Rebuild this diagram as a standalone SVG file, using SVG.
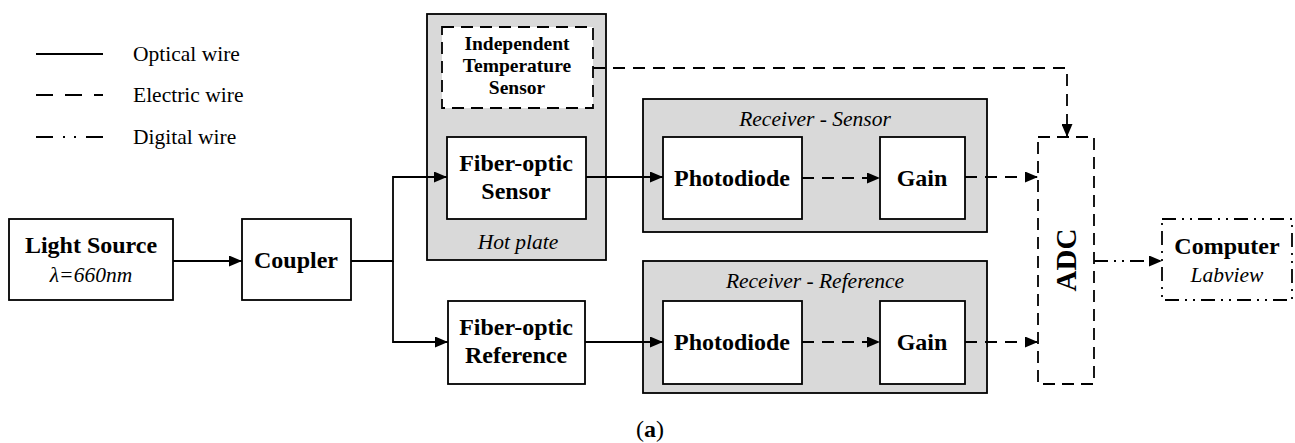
<svg xmlns="http://www.w3.org/2000/svg" width="1295" height="443" viewBox="0 0 1295 443" font-family="'Liberation Serif', serif">
<defs>
<marker id="ah" markerWidth="13" markerHeight="11" refX="13" refY="5.5" orient="auto" markerUnits="userSpaceOnUse"><path d="M0,0 L13,5.5 L0,11 Z" fill="#000"/></marker>
<style>
text{font-family:"Liberation Serif","Times New Roman",serif}
.b{font-weight:bold}
.big{font-size:24px}
.mid{font-size:19.5px}
.it{font-style:italic;font-size:21.5px}
.leg{font-size:21.5px}
.box{fill:#fff;stroke:#000;stroke-width:1.8}
.grp{fill:#d9d9d9;stroke:#000;stroke-width:1.8}
.dbox{fill:#fff;stroke:#000;stroke-width:1.8;stroke-dasharray:12,7}
.ddbox{fill:#fff;stroke:#000;stroke-width:1.8;stroke-dasharray:14,6,2,6,2,6}
.opt{fill:none;stroke:#000;stroke-width:1.8}
.el{fill:none;stroke:#000;stroke-width:1.8;stroke-dasharray:12,8}
.dg{fill:none;stroke:#000;stroke-width:1.8;stroke-dasharray:14,6,2,6,2,6}
</style>
</defs>
<g id="legend">
<line x1="36" y1="54" x2="103" y2="54" stroke="#000" stroke-width="2.2"/>
<line x1="36" y1="95" x2="103" y2="95" stroke="#000" stroke-width="2.2" stroke-dasharray="17,12"/>
<path d="M36,137 H53 M63,137 h2 M74,137 h2 M86,137 H103" stroke="#000" stroke-width="2.2" fill="none"/>
<text class="leg" x="133" y="61">Optical wire</text>
<text class="leg" x="133" y="102">Electric wire</text>
<text class="leg" x="133" y="144">Digital wire</text>
</g>
<g id="hotplate">
<rect class="grp" x="427" y="14" width="179" height="246"/>
<text class="it" x="518" y="249" text-anchor="middle">Hot plate</text>
</g>
<g id="temp-sensor">
<rect class="dbox" x="442" y="27" width="151" height="81"/>
<text class="b mid" x="517" y="50" text-anchor="middle">Independent</text>
<text class="b mid" x="517" y="72" text-anchor="middle">Temperature</text>
<text class="b mid" x="517" y="94" text-anchor="middle">Sensor</text>
</g>
<g id="fo-sensor">
<rect class="box" x="447" y="137" width="139" height="82"/>
<text class="b big" x="516" y="171" text-anchor="middle">Fiber-optic</text>
<text class="b big" x="516" y="199" text-anchor="middle">Sensor</text>
</g>
<g id="light-source">
<rect class="box" x="9" y="219" width="164" height="81"/>
<text class="b big" x="91" y="253" text-anchor="middle">Light Source</text>
<text class="it" x="91" y="282" text-anchor="middle">λ=660nm</text>
</g>
<g id="coupler">
<rect class="box" x="242" y="219" width="109" height="81"/>
<text class="b big" x="296" y="268" text-anchor="middle">Coupler</text>
</g>
<g id="fo-reference">
<rect class="box" x="448" y="301" width="137" height="83"/>
<text class="b big" x="516" y="335" text-anchor="middle">Fiber-optic</text>
<text class="b big" x="516" y="363" text-anchor="middle">Reference</text>
</g>
<g id="receiver-sensor">
<rect class="grp" x="643" y="99" width="344" height="133"/>
<text class="it" x="815" y="126" text-anchor="middle">Receiver - Sensor</text>
</g>
<g id="photodiode-s">
<rect class="box" x="663" y="137" width="139" height="82"/>
<text class="b big" x="732" y="186" text-anchor="middle">Photodiode</text>
</g>
<g id="gain-s">
<rect class="box" x="880" y="137" width="85" height="82"/>
<text class="b big" x="922" y="186" text-anchor="middle">Gain</text>
</g>
<g id="receiver-reference">
<rect class="grp" x="643" y="261" width="344" height="132"/>
<text class="it" x="815" y="288" text-anchor="middle">Receiver - Reference</text>
</g>
<g id="photodiode-r">
<rect class="box" x="663" y="301" width="139" height="83"/>
<text class="b big" x="732" y="350" text-anchor="middle">Photodiode</text>
</g>
<g id="gain-r">
<rect class="box" x="880" y="301" width="85" height="83"/>
<text class="b big" x="922" y="350" text-anchor="middle">Gain</text>
</g>
<g id="adc">
<rect class="dbox" x="1038" y="137" width="56" height="247"/>
<text class="b" font-size="29" transform="translate(1076,260) rotate(-90)" text-anchor="middle">ADC</text>
</g>
<g id="computer">
<rect class="ddbox" x="1162" y="219" width="130" height="81"/>
<text class="b big" x="1227" y="254" text-anchor="middle">Computer</text>
<text class="it" x="1227" y="282" text-anchor="middle">Labview</text>
</g>
<g id="connectors">
<line class="opt" x1="173" y1="261" x2="242" y2="261" marker-end="url(#ah)"/>
<path class="opt" d="M351,261 H393 V177 H447" marker-end="url(#ah)"/>
<path class="opt" d="M393,261 V342 H448" marker-end="url(#ah)"/>
<line class="opt" x1="586" y1="177" x2="663" y2="177" marker-end="url(#ah)"/>
<line class="opt" x1="585" y1="342" x2="663" y2="342" marker-end="url(#ah)"/>
<line class="el" x1="802" y1="178" x2="880" y2="178" marker-end="url(#ah)"/>
<line class="el" x1="802" y1="342" x2="880" y2="342" marker-end="url(#ah)"/>
<line class="el" x1="965" y1="177" x2="1038" y2="177" marker-end="url(#ah)"/>
<line class="el" x1="965" y1="342" x2="1038" y2="342" marker-end="url(#ah)"/>
<path class="el" d="M593,68 H1067 V137" marker-end="url(#ah)"/>
<line class="dg" x1="1094" y1="261" x2="1162" y2="261" marker-end="url(#ah)"/>
</g>
<text x="650" y="437" font-size="24" text-anchor="middle">(<tspan font-weight="bold">a</tspan>)</text>
</svg>
